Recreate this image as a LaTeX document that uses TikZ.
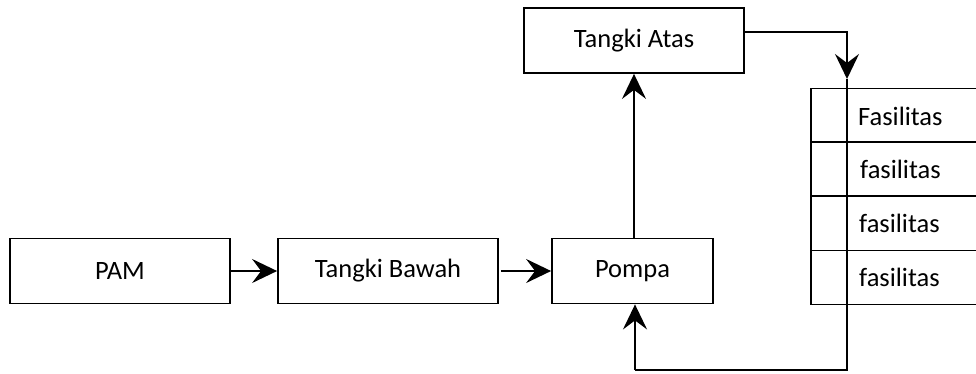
\documentclass[tikz,border=0pt]{standalone}
\usepackage{fontspec}
\setmainfont{Carlito}
\usetikzlibrary{arrows.meta}
\begin{document}
\begin{tikzpicture}[x=1pt,y=-1pt,
  txt/.style={font=\fontsize{26.5}{30}\selectfont},
  box/.style={draw,line width=1.8pt,minimum width=220pt,minimum height=65pt,inner sep=0pt,txt},
  cell/.style={draw,line width=1.8pt,minimum width=175pt,minimum height=54pt,inner sep=0pt},
  conn/.style={line width=1.8pt,-{Stealth[length=25pt,width=24pt,inset=9pt]}},
  plain/.style={line width=1.8pt}]
\clip (0,0) rectangle (976,373);
\useasboundingbox (0,0) rectangle (976,373);
\node[box] (pam) at (120,271) {PAM};
\node[box] (bawah) at (388,271) {Tangki Bawah};
\node[box,minimum width=161pt] (pompa) at (632.5,271) {Pompa};
\node[box] (atas) at (634,40.5) {Tangki Atas};
% table
\node[cell] (r1) at (898.5,115.5) {};
\node[cell] (r2) at (898.5,169) {};
\node[cell] (r3) at (898.5,223.5) {};
\node[cell] (r4) at (898.5,277.5) {};
\draw[plain] (847,89) -- (847,304);
\begin{scope}[txt]
\node[anchor=west,inner sep=0pt] (t1) at (858,116) {Fasilitas};
\node[anchor=west,inner sep=0pt] (t2) at (860,169) {fasilitas};
\node[anchor=west,inner sep=0pt] (t3) at (859,223) {fasilitas};
\node[anchor=west,inner sep=0pt] (t4) at (859,277) {fasilitas};
\end{scope}
\coordinate (down) at (847,79);
\coordinate (start) at (847,79);
\coordinate (corner) at (635,370);
% connectors
\draw[conn] (pam.east) -- (bawah.west);
\draw[conn] (bawah.east) ++(2,0) -- (pompa.west);
\draw[conn] (pompa.north -| atas.south) -- (atas.south);
\draw[conn] (atas.east |- 0,32) -| (down);
\draw[plain] (start) -- (847,370) -- (corner);
\draw[conn] (corner) -- (corner |- pompa.south);
\end{tikzpicture}
\end{document}
